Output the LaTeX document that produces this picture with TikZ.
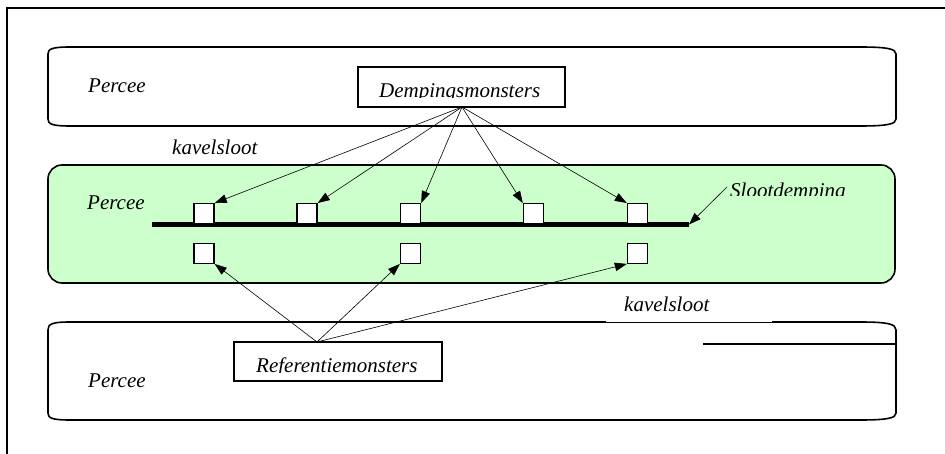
\documentclass[tikz,border=0pt]{standalone}
\usepackage{fontspec}
\setmainfont{Liberation Serif}
\usetikzlibrary{arrows.meta}
\definecolor{bandgreen}{RGB}{204,255,204}
\tikzset{
  band/.style={draw=black, line width=1.6pt},
  lbl/.style={font=\fontsize{21}{21}\selectfont\itshape, inner sep=0pt, anchor=base west},
  namebox/.style={draw=black, line width=1.8pt, fill=white, inner sep=0pt},
  sq/.style={draw=black, line width=1.4pt, fill=white, minimum width=20pt, minimum height=19.5pt, inner sep=0pt},
  fan/.style={draw=black, line width=0.6pt, -{Triangle[length=12pt,width=8.5pt]}},
}
\begin{document}
\begin{tikzpicture}[x=1pt,y=-1pt]
\useasboundingbox (0,0) rectangle (945,454);
\fill[white] (0,0) rectangle (945,454);
% outer frame
\draw[line width=1.2pt] (7,470) -- (7,8) -- (960,8);

% top band
\draw[band] (70,47) -- (860,47) .. controls (888,47) and (896,49) .. (896,54) -- (896,119)
  .. controls (896,124) and (888,126) .. (860,126) -- (70,126)
  .. controls (52,126) and (48,124) .. (48,119) -- (48,54)
  .. controls (48,49) and (52,47) .. (70,47) -- cycle;

% middle band
\draw[band, fill=bandgreen, rounded corners=14pt] (48,165) rectangle (895,283);

% lower band
\draw[band] (70,322) -- (860,322) .. controls (888,322) and (896,324) .. (896,330) -- (896,413)
  .. controls (896,418) and (888,420) .. (860,420) -- (70,420)
  .. controls (52,420) and (48,418) .. (48,413) -- (48,330)
  .. controls (48,324) and (52,322) .. (70,322) -- cycle;
\draw[white, line width=2.4pt] (606,322) -- (772,322);
\draw[black, line width=0.6pt] (606,322.3) -- (772,322.3);
\draw[line width=1.4pt] (703,344) -- (896,344);

% texts
\node[lbl] (p1) at (88,93) {Percee};
\node[lbl] (k1) at (172,155) {kavelsloot};
\node[lbl] (p2) at (87,210) {Percee};
\node[lbl] (k2) at (624,312) {kavelsloot};
\node[lbl] (p3) at (88,387) {Percee};
\begin{scope}
  \clip (700,170) rectangle (880,196);
  \node[lbl] (sl) at (730,198) {Slootdemping};
\end{scope}

% name boxes
\node[namebox, minimum width=207pt, minimum height=40pt] (dm) at (461.5,87) {};
\begin{scope}
  \clip (359,68) rectangle (564,97.5);
  \node[lbl] (dmt) at (379,98) {Dempingsmonsters};
\end{scope}
\node[namebox, minimum width=208pt, minimum height=39pt] (rf) at (338,361.5) {};
\begin{scope}
  \clip (235,343) rectangle (441,372);
  \node[lbl] (rft) at (256,372.5) {Referentiemonsters};
\end{scope}

% sloot line
\coordinate (ls) at (152,224.5);
\coordinate (le) at (689,224.5);
\draw[line width=4.5pt] (ls) -- (le);

% squares
\node[sq] (u1) at (204,213.5) {};
\node[sq] (u2) at (307,213.5) {};
\node[sq] (u3) at (410.5,213.5) {};
\node[sq] (u4) at (533.5,213.5) {};
\node[sq] (u5) at (637.5,213.5) {};
\node[sq] (d1) at (204,253.5) {};
\node[sq] (d3) at (410.5,253.5) {};
\node[sq] (d5) at (637.5,253.5) {};

% arrows from Dempingsmonsters
\coordinate (dmp) at (462,107);
\draw[fan] (dmp) -- (u1.north east);
\draw[fan] (dmp) -- (u2.north east);
\draw[fan] (dmp) -- (u3.north east);
\draw[fan] (dmp) -- (u4.north west);
\draw[fan] (dmp) -- (u5.north west);

% arrows from Referentiemonsters
\coordinate (rfp) at (317,342);
\draw[fan] (rfp) -- (d1.south east);
\draw[fan] (rfp) -- (d3.south west);
\draw[fan] (rfp) -- (d5.south west);

% Slootdemping arrow
\coordinate (slp) at (727,187);
\draw[fan] (slp) -- (le);
\end{tikzpicture}
\end{document}
